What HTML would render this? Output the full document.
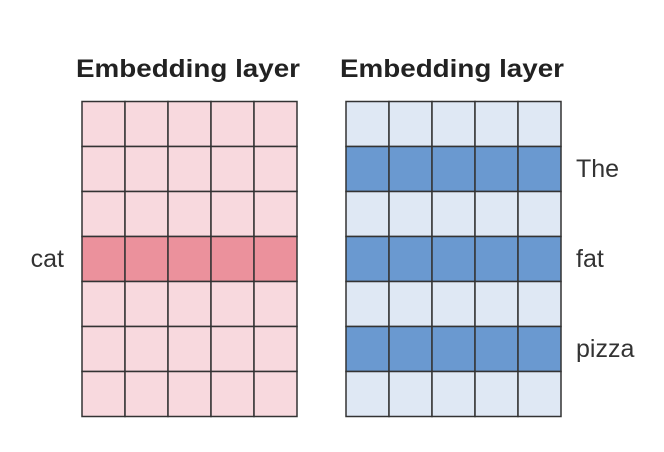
<!DOCTYPE html>
<html><head><meta charset="utf-8"><style>body{margin:0;background:#fff}svg{display:block}</style></head>
<body>
<svg id="c" width="664" height="452" xmlns="http://www.w3.org/2000/svg" font-family="Liberation Sans, sans-serif">
<text x="188" y="77" text-anchor="middle" font-size="25" font-weight="bold" fill="#222" textLength="224" lengthAdjust="spacingAndGlyphs">Embedding layer</text>
<text x="452" y="77" text-anchor="middle" font-size="25" font-weight="bold" fill="#222" textLength="224" lengthAdjust="spacingAndGlyphs">Embedding layer</text>
</svg>
<script>
const rows = 7, cols = 5;
const leftHighlight = [3];
const rightHighlight = [1, 3, 5];
const leftLabels = [{row:3, text:'cat'}];
const rightLabels = [{row:1, text:'The'}, {row:3, text:'fat'}, {row:5, text:'pizza'}];
const svg = document.getElementById('c');
const NS = 'http://www.w3.org/2000/svg';
const top0 = 101.5, cw = 43, rh = 45;
function grid(x0, hl, light, dark, name) {
  const g = document.createElementNS(NS, 'g');
  
  
  for (let r = 0; r < rows; r++) for (let c = 0; c < cols; c++) {
    const rc = document.createElementNS(NS, 'rect');
    rc.setAttribute('x', x0 + c * cw); rc.setAttribute('y', top0 + r * rh);
    rc.setAttribute('width', cw); rc.setAttribute('height', rh);
    rc.setAttribute('fill', hl.includes(r) ? dark : light);
    rc.setAttribute('stroke', '#333'); rc.setAttribute('stroke-width', '1.5');
    
    
    g.appendChild(rc);
  }
  svg.appendChild(g);
}
function labels(arr, x, anchor, name) {
  arr.forEach(l => {
    const t = document.createElementNS(NS, 'text');
    t.setAttribute('x', x); t.setAttribute('y', top0 + l.row * rh + rh / 2 + 8);
    t.setAttribute('font-size', '25'); t.setAttribute('fill', '#333');
    t.setAttribute('text-anchor', anchor);
    t.textContent = l.text;
    
    
    svg.appendChild(t);
  });
}
grid(82, leftHighlight, '#f8d9de', '#eb919c', 'left-grid');
grid(346, rightHighlight, '#dfe8f4', '#6a99d0', 'right-grid');
labels(leftLabels, 64, 'end', 'left-token-label');
labels(rightLabels, 576, 'start', 'right-token-label');
</script>
</body></html>
